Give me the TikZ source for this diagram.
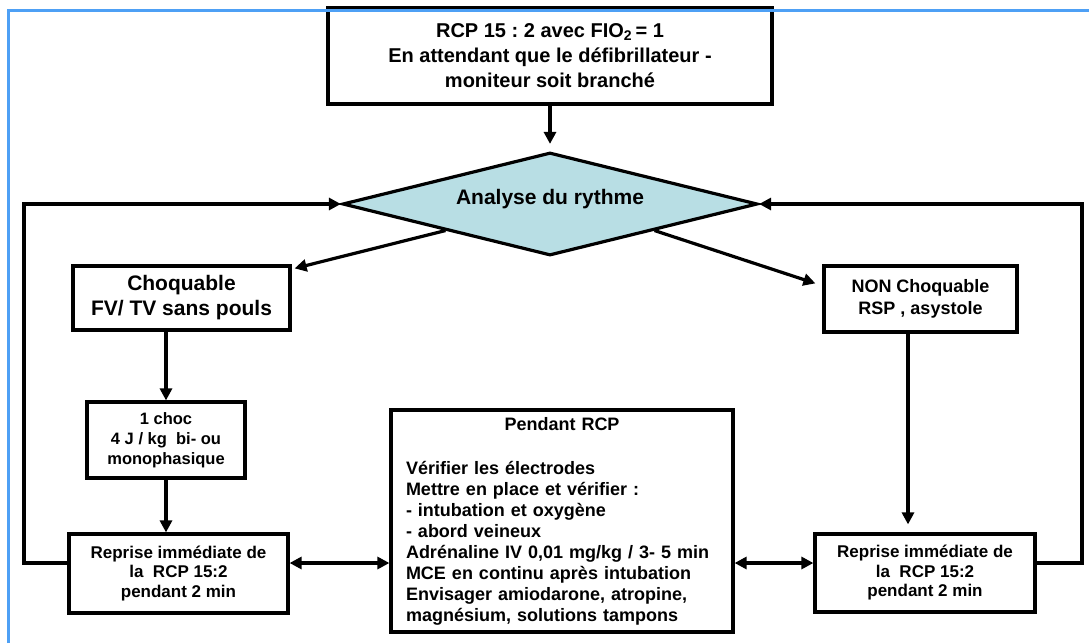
\documentclass[tikz,border=0pt]{standalone}
\usepackage{fontspec}
\setmainfont{Liberation Sans}
\usetikzlibrary{arrows.meta,shapes.geometric}
\definecolor{dq}{RGB}{184,222,228}
\definecolor{fr}{RGB}{78,160,245}
\frenchspacing

\begin{document}
\begin{tikzpicture}[x=1pt, y=-1pt, >={Triangle[length=12pt,width=12pt]},
    line width=3.2pt,
    box/.style={draw, line width=3.2pt, inner sep=0pt, align=center, font=\bfseries}]

\useasboundingbox (0,0) rectangle (1089,643);

% ── top: RCP while waiting ──
\node[box, minimum width=444, minimum height=96,
      font=\bfseries\fontsize{20}{25}\selectfont] (top) at (550,56)
    {RCP 15 : 2 avec FIO\textsubscript{2}\,= 1\\
     En attendant que le défibrillateur -\\
     moniteur soit branché};

% ── rhythm check ──
\node[diamond, aspect=4, draw, fill=dq, inner sep=0pt, minimum width=415, minimum height=103,
      text height=15pt, text depth=14pt,
      font=\bfseries\fontsize{21}{25}\selectfont] (analyse) at (550,204)
    {Analyse du rythme};

% ── left branch ──
\node[box, minimum width=217, minimum height=64,
      font=\bfseries\fontsize{21}{25}\selectfont] (choq) at (181.5,298)
    {Choquable\\ FV/ TV sans pouls};

\node[box, minimum width=158, minimum height=76,
      font=\bfseries\fontsize{16.5}{20}\selectfont] (choc) at (166,440)
    {1 choc\\ 4 J / kg\ \ bi- ou\\ monophasique};

\node[box, minimum width=219, minimum height=79,
      font=\bfseries\fontsize{17}{19.5}\selectfont] (repL) at (178.5,573.5)
    {Reprise immédiate de\\ la\ \ RCP 15:2\\ pendant 2 min};

% ── right branch ──
\node[box, minimum width=193, minimum height=66,
      font=\bfseries\fontsize{18}{22}\selectfont] (non) at (920.5,299)
    {NON Choquable\\ RSP , asystole};

\node[box, minimum width=220, minimum height=78,
      font=\bfseries\fontsize{17}{19.5}\selectfont] (repR) at (925,573)
    {Reprise immédiate de\\ la\ \ RCP 15:2\\ pendant 2 min};

% ── during CPR ──
\node[box, minimum width=342, minimum height=222, text width=312, align=left,
      font=\bfseries\fontsize{18}{21}\selectfont] (pendant) at (562,521)
    {\makebox[\linewidth][c]{Pendant RCP}\\[23pt]
     Vérifier les électrodes\\
     Mettre en place et vérifier :\\
     - intubation et oxygène\\
     - abord veineux\\
     Adrénaline IV 0,01 mg/kg / 3- 5 min\\
     MCE en continu après intubation\\
     Envisager amiodarone, atropine,\\
     magnésium, solutions tampons};

% loop corners
\coordinate (loopL) at (24,563);
\coordinate (loopR) at (1082,563);

% ── connectors ──
\draw[->, shorten >=7pt] (top.south) -- (analyse.north);
\draw[->] (analyse.south west) -- ([shift={(3,4)}]choq.north east);
\draw[->] (analyse.south east) -- ([shift={(-7,19)}]non.north west);
\draw[->] (choq.south -| choc.north) -- (choc.north);
\draw[->] (choc.south) -- (choc.south |- repL.north);
\draw[->, shorten >=8pt] ([xshift=-12.5pt]non.south) -- ([xshift=-12.5pt]non.south |- repR.north);

\draw[<->] (loopL -| repL.east) -- (loopL -| pendant.west);
\draw[<->] (loopR -| pendant.east) -- (loopR -| repR.west);

\draw[->] (loopL -| repL.west) -- (loopL) |- (analyse.west);
\draw[->] (loopR -| repR.east) -- (loopR) |- (analyse.east);

% page frame
\draw[fr, line width=3pt] (8,643) -- (8,10) -- (1089,10);

\end{tikzpicture}
\end{document}
